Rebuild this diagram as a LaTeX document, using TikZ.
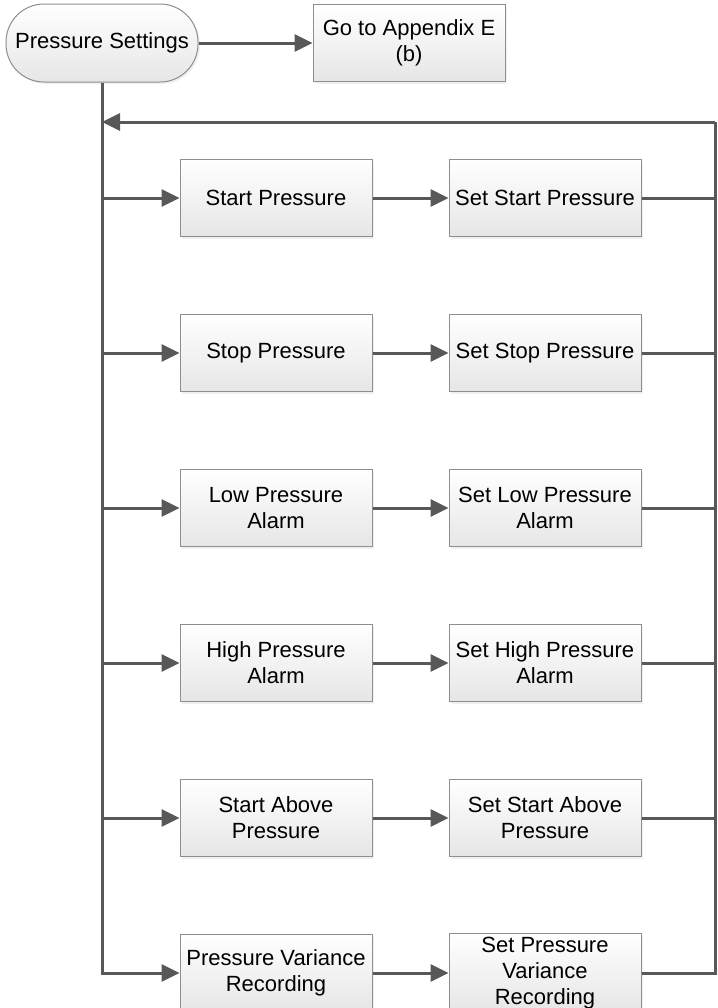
\documentclass[tikz,border=0pt]{standalone}
\usepackage{fontspec}
\setmainfont{Liberation Sans}
\usepackage{tikz}
\usetikzlibrary{positioning}
\usetikzlibrary{arrows.meta}
\usetikzlibrary{shadows}
\definecolor{linegray}{HTML}{585858}
\definecolor{boxgray}{HTML}{8E8E8E}
\definecolor{shadegray}{HTML}{E6E6E6}

\begin{document}
\begin{tikzpicture}[
                          >={Triangle[length=9pt,width=8.5pt]},
                          termnode/.style={rectangle, rounded corners=19pt, draw=boxgray, line width=0.5pt, top color=white, bottom color=shadegray, minimum width=96pt, minimum height=39pt, align=center, font=\fontsize{11}{13}\selectfont, drop shadow={opacity=0.12, shadow xshift=1pt, shadow yshift=-1pt}},
                          boxnode/.style={rectangle, draw=boxgray, line width=0.5pt, top color=white, bottom color=shadegray, minimum width=96pt, minimum height=38.5pt, inner sep=2pt, align=center, font=\fontsize{11}{13}\selectfont, drop shadow={opacity=0.12, shadow xshift=1pt, shadow yshift=-1pt}},
                          conn/.style={draw=linegray, line width=1.5pt},
                      ]
                      \useasboundingbox (0,0) rectangle (359pt,-504pt);
                      % Nodes
                      \node[termnode]      (settings)                                   at (51pt,-21.5pt)   {Pressure Settings};
                      \node[boxnode]       (appendix)     [right=57pt of settings]                        {Go to Appendix E\\(b)};

                      \node[boxnode]       (start_p)                                    at (138pt,-99pt)    {Start Pressure};
                      \node[boxnode]       (stop_p)       [below=38.5pt of start_p]                       {Stop Pressure};
                      \node[boxnode]       (low_alarm)    [below=38.5pt of stop_p]                        {Low Pressure\\Alarm};
                      \node[boxnode]       (high_alarm)   [below=38.5pt of low_alarm]                     {High Pressure\\Alarm};
                      \node[boxnode]       (above_p)      [below=38.5pt of high_alarm]                    {Start Above\\Pressure};
                      \node[boxnode]       (var_rec)      [below=38.5pt of above_p]                       {Pressure Variance\\Recording};

                      \node[boxnode]       (set_start_p)    [right=38pt of start_p]                       {Set Start Pressure};
                      \node[boxnode]       (set_stop_p)     [right=38pt of stop_p]                        {Set Stop Pressure};
                      \node[boxnode]       (set_low_alarm)  [right=38pt of low_alarm]                     {Set Low Pressure\\Alarm};
                      \node[boxnode]       (set_high_alarm) [right=38pt of high_alarm]                    {Set High Pressure\\Alarm};
                      \node[boxnode]       (set_above_p)    [right=38pt of above_p]                       {Set Start Above\\Pressure};
                      \node[boxnode]       (set_var_rec)    [right=38pt of var_rec]                       {Set Pressure\\Variance\\Recording};

                      \coordinate (loop_top) at (357.5pt,-61pt);

                      %Lines
                      \draw[conn,->] (settings.east) -- (appendix.west);
                      \draw[conn,->] (settings.south) |- (var_rec.west);
                      \draw[conn,->] (loop_top) -- (settings.south |- loop_top);
                      \draw[conn] (set_var_rec.east) -| (loop_top);
                      \draw[conn,->] (settings.south |- start_p.west) -- (start_p.west);
                      \draw[conn,->] (settings.south |- stop_p.west) -- (stop_p.west);
                      \draw[conn,->] (settings.south |- low_alarm.west) -- (low_alarm.west);
                      \draw[conn,->] (settings.south |- high_alarm.west) -- (high_alarm.west);
                      \draw[conn,->] (settings.south |- above_p.west) -- (above_p.west);
                      \draw[conn,->] (start_p.east) -- (set_start_p.west);
                      \draw[conn,->] (stop_p.east) -- (set_stop_p.west);
                      \draw[conn,->] (low_alarm.east) -- (set_low_alarm.west);
                      \draw[conn,->] (high_alarm.east) -- (set_high_alarm.west);
                      \draw[conn,->] (above_p.east) -- (set_above_p.west);
                      \draw[conn,->] (var_rec.east) -- (set_var_rec.west);
                      \draw[conn] (set_start_p.east) -- (set_start_p.east -| loop_top);
                      \draw[conn] (set_stop_p.east) -- (set_stop_p.east -| loop_top);
                      \draw[conn] (set_low_alarm.east) -- (set_low_alarm.east -| loop_top);
                      \draw[conn] (set_high_alarm.east) -- (set_high_alarm.east -| loop_top);
                      \draw[conn] (set_above_p.east) -- (set_above_p.east -| loop_top);
                  \end{tikzpicture}
\end{document}
